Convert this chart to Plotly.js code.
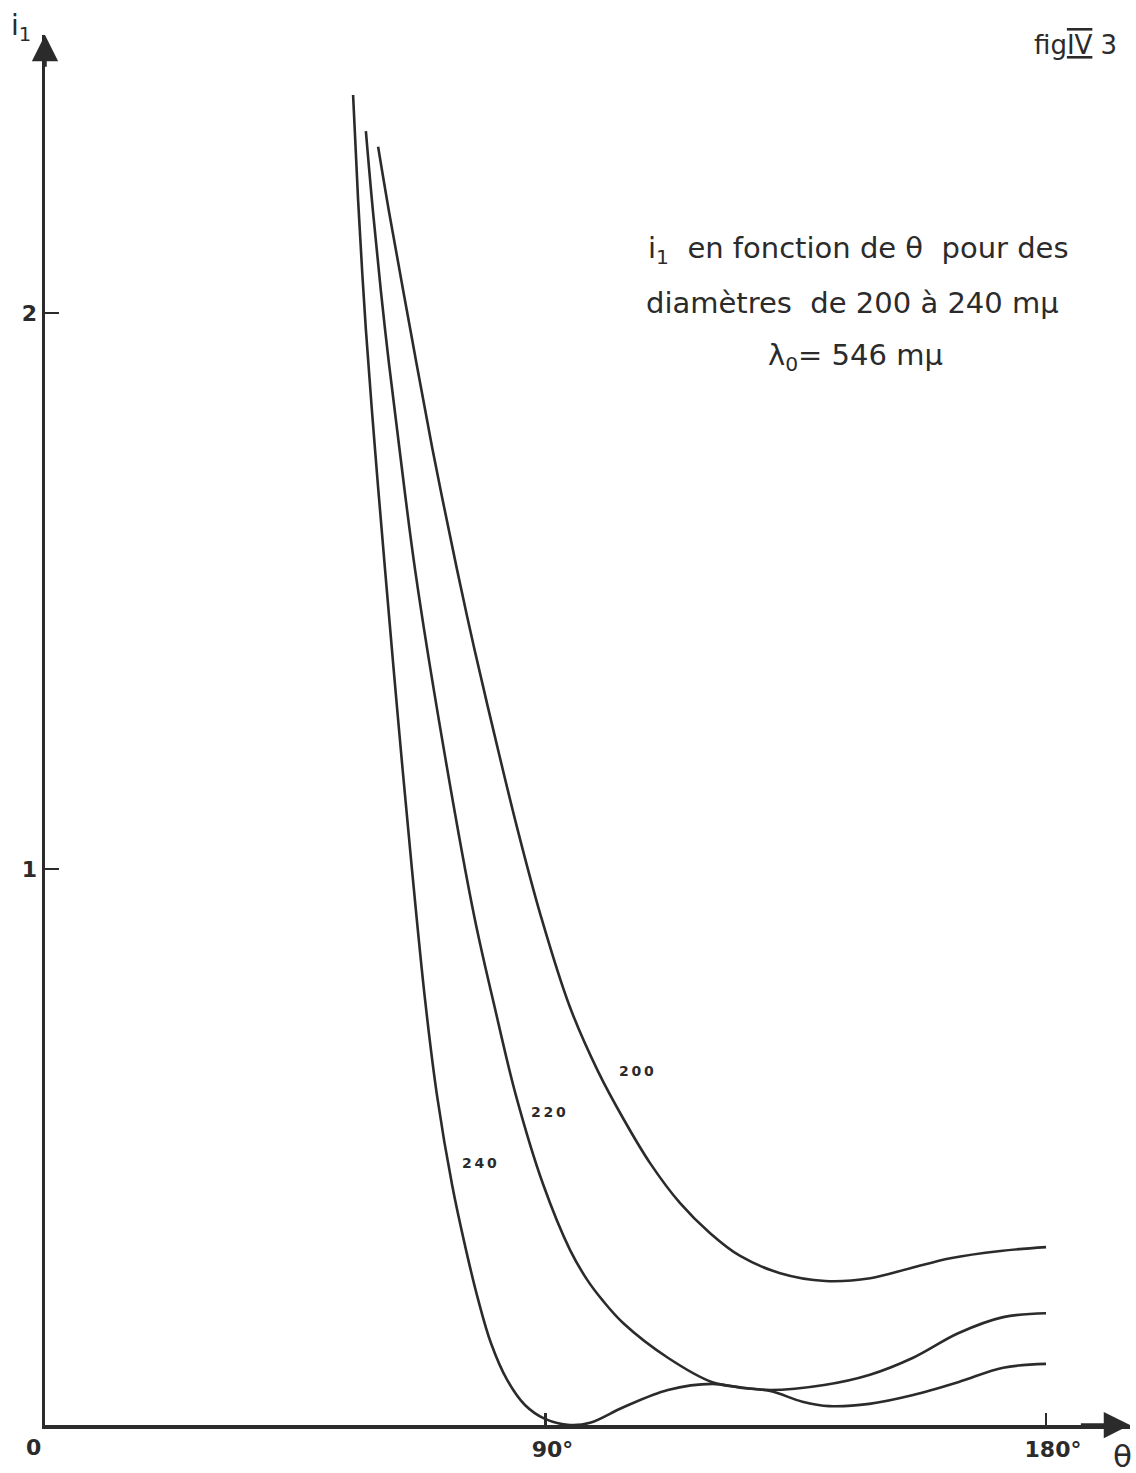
<!DOCTYPE html>
<html>
<head>
<meta charset="utf-8">
<script src="https://cdn.plot.ly/plotly-3.0.1.min.js"></script>
<style>html,body{margin:0;padding:0;background:#fff;}#chart{width:1136px;height:1473px;}</style>
</head>
<body>
<div id="chart"></div>
<script>
// Angle theta (degrees) and intensity i1 for each diameter (mµ)
const theta240 = [55.4, 56.3, 57.7, 59.35, 61.15, 63.5, 66.0, 68.35, 70.5, 73.2, 75.7, 77.9, 80.2, 83.1, 86.3, 89.9, 94.4, 98.0, 104.0, 112.0, 120.0, 125.0, 130.4, 136.2, 141.0, 148.2, 156.1, 164.2, 172.3, 180.0];
const i240     = [2.392, 2.203, 1.970, 1.754, 1.538, 1.268, 0.998, 0.764, 0.592, 0.432, 0.315, 0.225, 0.147, 0.081, 0.036, 0.011, 0.000, 0.004, 0.032, 0.063, 0.074, 0.067, 0.061, 0.042, 0.034, 0.038, 0.054, 0.077, 0.103, 0.110];

const theta220 = [57.7, 59.0, 61.15, 63.7, 66.55, 71.4, 77.2, 80.8, 84.7, 89.6, 94.4, 97.5, 100.2, 104.0, 112.0, 120.0, 125.0, 130.4, 140.1, 148.2, 156.1, 164.2, 172.3, 180.0];
const i220     = [2.327, 2.180, 1.970, 1.759, 1.538, 1.234, 0.914, 0.754, 0.592, 0.432, 0.315, 0.261, 0.225, 0.183, 0.121, 0.077, 0.068, 0.063, 0.072, 0.090, 0.121, 0.165, 0.194, 0.201];

const theta200 = [59.9, 61.9, 65.7, 69.6, 74.1, 77.2, 81.0, 84.9, 89.2, 94.3, 99.4, 104.1, 108.8, 114.2, 119.6, 125.0, 132.2, 140.3, 148.4, 155.6, 162.8, 171.8, 180.0];
const i200     = [2.299, 2.180, 1.970, 1.759, 1.538, 1.396, 1.234, 1.074, 0.914, 0.754, 0.637, 0.549, 0.471, 0.399, 0.345, 0.304, 0.273, 0.259, 0.264, 0.282, 0.300, 0.313, 0.320];

const diameters = ['200', '220', '240'];
const labelTheta = [106.3, 90.5, 78.2];
const labelI = [0.637, 0.563, 0.471];

const xTickVals = [90, 180];
const xTickText = ['90°', '180°'];
const yTickVals = [1, 2];
const yTickText = ['1', '2'];

const ink = '#2b2b2b';
const fontFam = 'DejaVu Sans, sans-serif';

const series = [[theta200, i200], [theta220, i220], [theta240, i240]];
const traces = series.map((s, k) => ({
  x: s[0], y: s[1], type: 'scatter', mode: 'lines',
  name: diameters[k],
  line: {color: ink, width: 2.6, shape: 'spline', smoothing: 1},
  hoverinfo: 'skip'
}));

const W = 1136, H = 1473;
const M = {l: 45, r: 6, t: 35, b: 48};
const PW = W - M.l - M.r, PH = H - M.t - M.b;
const px = v => (v - M.l) / PW;          // pixel -> paper x
const py = v => (H - M.b - v) / PH;      // pixel -> paper y

const annotations = [];
diameters.forEach((d, k) => {
  annotations.push({x: labelTheta[k], y: labelI[k], xref: 'x', yref: 'y', text: d.split('').join('\u2009'),
    showarrow: false, font: {family: fontFam, size: 14, color: ink, weight: 'bold'}});
});
// axis arrowheads
annotations.push({x: 0, y: 2.5, ax: 0, ay: 2.44, xref: 'x', yref: 'y', axref: 'x', ayref: 'y', text: '',
  showarrow: true, arrowhead: 2, arrowsize: 1.5, arrowwidth: 3.5, arrowcolor: ink, standoff: 0});
annotations.push({x: 195.1, y: 0, ax: 186, ay: 0, xref: 'x', yref: 'y', axref: 'x', ayref: 'y', text: '',
  showarrow: true, arrowhead: 2, arrowsize: 1.5, arrowwidth: 3.5, arrowcolor: ink, standoff: 0});
// texts
const txt = (text, x, y, size, extra) => Object.assign({text: text, x: px(x), y: py(y), xref: 'paper', yref: 'paper',
  xanchor: 'center', yanchor: 'middle', showarrow: false, font: {family: fontFam, size: size, color: ink}}, extra || {});
annotations.push(txt('i<sub>1</sub>', 21, 28, 28));
annotations.push(txt('fig<span style="text-decoration:underline overline">IV</span> 3', 1075, 45, 26));
annotations.push(txt('i<sub>1</sub>  en fonction de θ  pour des', 858, 250, 29));
annotations.push(txt('diamètres  de 200 à 240 mµ', 852, 303, 29));
annotations.push(txt('λ<sub>0</sub>= 546 mµ', 855, 357, 29));
annotations.push(txt('0', 33, 1447, 22, {font: {family: fontFam, size: 22, color: ink, weight: 'bold'}}));
annotations.push(txt('θ', 1122, 1456, 31));

const layout = {
  width: W, height: H,
  margin: M,
  paper_bgcolor: '#fff', plot_bgcolor: '#fff',
  showlegend: false,
  xaxis: {range: [0, 195.1], showgrid: false, zeroline: false, showline: true, linewidth: 3.5, linecolor: ink,
    tickvals: xTickVals, ticktext: xTickText, ticks: 'inside', ticklen: 12, tickwidth: 2.5, tickcolor: ink,
    ticklabelstandoff: 2, ticklabelshift: 7, tickfont: {family: fontFam, size: 22, color: ink, weight: 'bold'}, fixedrange: true},
  yaxis: {range: [0, 2.5], showgrid: false, zeroline: false, showline: true, linewidth: 3.5, linecolor: ink,
    tickvals: yTickVals, ticktext: yTickText, ticks: 'inside', ticklen: 14, tickwidth: 2.5, tickcolor: ink,
    ticklabelstandoff: 0, tickfont: {family: fontFam, size: 22, color: ink, weight: 'bold'}, fixedrange: true},
  annotations: annotations
};

Plotly.newPlot('chart', traces, layout, {staticPlot: true, displayModeBar: false});
</script>
</body>
</html>
